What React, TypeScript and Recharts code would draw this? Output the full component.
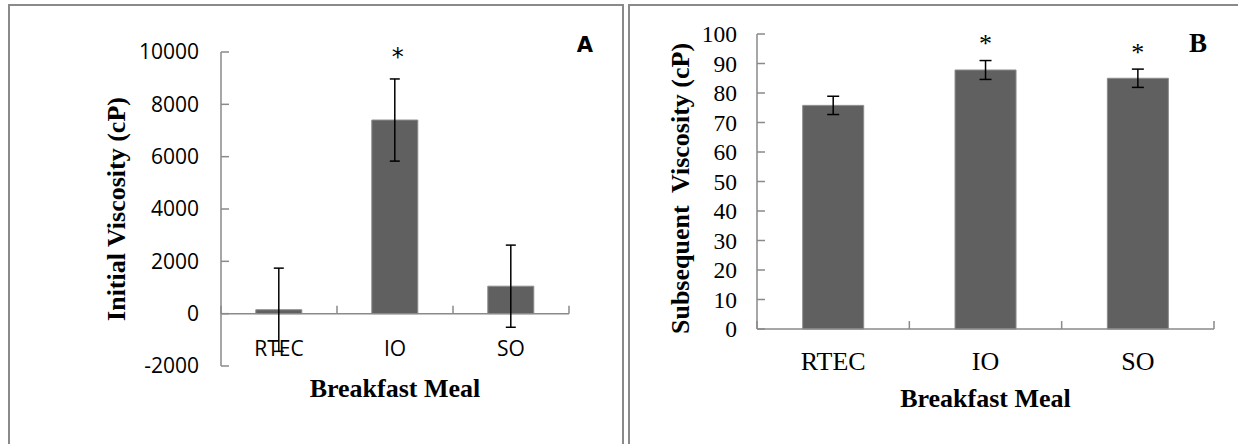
import React from "react";
import {
  BarChart,
  Bar,
  XAxis,
  YAxis,
  ErrorBar,
  LabelList,
  ReferenceLine,
} from "recharts";

const meals = ["RTEC", "IO", "SO"];

// panel A – initial viscosity
const initialViscosity = [150, 7400, 1050];
const initialError = [1590, 1570, 1570];
const initialSig = ["", "*", ""];
const initialTicks = [-2000, 0, 2000, 4000, 6000, 8000, 10000];

// panel B – subsequent viscosity
const subsequentViscosity = [75.8, 87.8, 85];
const subsequentError = [3.1, 3.2, 3.1];
const subsequentSig = ["", "*", "*"];
const subsequentTicks = [0, 10, 20, 30, 40, 50, 60, 70, 80, 90, 100];

const dataA = meals.map((meal, i) => ({
  meal,
  value: initialViscosity[i],
  err: initialError[i],
  sig: initialSig[i],
}));

const dataB = meals.map((meal, i) => ({
  meal,
  value: subsequentViscosity[i],
  err: subsequentError[i],
  sig: subsequentSig[i],
}));

const AXIS = "#8a8a8a";
const BAR = "#606060";
const SANS = "Open Sans";
const SERIF = "Liberation Serif";

const catTick = (dy: number, family: string, size: number) => (props: any) => (
  <text
    x={props.x}
    y={props.y + dy}
    textAnchor="middle"
    fontFamily={family}
    fontSize={size}
    fill="#000"
  >
    {props.payload.value}
  </text>
);

const star = (lift: number, family: string, size: number, shift = 0) => (props: any) => {
  const { x, y, width, value } = props;
  if (!value) return null;
  return (
    <text
      x={x + width / 2 + shift}
      y={y - lift}
      textAnchor="middle"
      fontFamily={family}
      fontSize={size}
      fill="#000"
    >
      {value}
    </text>
  );
};

const yTitle = (text: string, dx: number, dy: number) => (props: any) => {
  const vb = props.viewBox;
  const cx = vb.x + dx;
  const cy = vb.y + vb.height / 2 + dy;
  return (
    <text
      transform={`translate(${cx},${cy}) rotate(-90)`}
      textAnchor="middle"
      dominantBaseline="central"
      fontFamily={SERIF}
      fontWeight="bold"
      fontSize={26}
      fill="#000"
    >
      {text}
    </text>
  );
};

const xTitle = (dy: number) => (props: any) => {
  const vb = props.viewBox;
  return (
    <text
      x={vb.x + vb.width / 2}
      y={vb.y + dy}
      textAnchor="middle"
      fontFamily={SERIF}
      fontWeight="bold"
      fontSize={26}
      fill="#000"
    >
      Breakfast Meal
    </text>
  );
};

function separators(tickLen: number) {
  const lines = meals.map((m) => (
    <ReferenceLine
      key={m}
      segment={[
        { x: m, y: 0 },
        { x: m, y: tickLen },
      ]}
      position="start"
      stroke={AXIS}
      strokeWidth={1.5}
      ifOverflow="visible"
    />
  ));
  const last = meals[meals.length - 1];
  lines.push(
    <ReferenceLine
      key="end"
      segment={[
        { x: last, y: 0 },
        { x: last, y: tickLen },
      ]}
      position="end"
      stroke={AXIS}
      strokeWidth={1.5}
      ifOverflow="visible"
    />
  );
  return lines;
}

export default function App() {
  return (
    <div
      style={{
        position: "absolute",
        left: 0,
        top: 0,
        width: 1238,
        height: 444,
        background: "#fff",
        overflow: "hidden",
      }}
    >
      <svg
        width={1238}
        height={444}
        style={{ position: "absolute", left: 0, top: 0 }}
      >
        <g stroke={AXIS} strokeWidth={2} fill="none">
          <polyline points="9,444 9,5 623,5 623,444" />
          <polyline points="629,444 629,5 1238,5" />
        </g>
        <text
          x={585}
          y={52}
          textAnchor="middle"
          fontFamily="DejaVu Sans"
          fontWeight="bold"
          fontSize={21}
          fill="#000"
        >
          A
        </text>
        <text
          x={1198}
          y={52}
          textAnchor="middle"
          fontFamily={SERIF}
          fontWeight="bold"
          fontSize={27}
          fill="#000"
        >
          B
        </text>
      </svg>

      <div style={{ position: "absolute", left: 0, top: 0 }}>
        <BarChart
          width={640}
          height={444}
          data={dataA}
          margin={{ top: 52, right: 71, bottom: 38, left: 101 }}
          barCategoryGap="30%"
        >
          <XAxis
            dataKey="meal"
            height={40}
            axisLine={false}
            tickLine={false}
            tickSize={0}
            tickMargin={0}
            tick={catTick(-10, SANS, 21)}
            label={{ content: xTitle(31) }}
          />
          <YAxis
            width={120}
            domain={[-2000, 10000]}
            ticks={initialTicks}
            interval={0}
            axisLine={{ stroke: AXIS, strokeWidth: 1.5 }}
            tickLine={{ stroke: AXIS, strokeWidth: 1.5 }}
            tickSize={-8}
            tickMargin={30}
            tick={{ fill: "#000", fontSize: 21, fontFamily: SANS }}
            label={{ content: yTitle("Initial Viscosity (cP)", 15.5, 0) }}
          />
          <ReferenceLine y={0} stroke={AXIS} strokeWidth={1.5} />
          {separators(300)}
          <Bar
            dataKey="value"
            fill={BAR}
            stroke="#8c8c8c"
            strokeWidth={1}
            isAnimationActive={false}
          >
            <ErrorBar
              dataKey="err"
              width={5}
              stroke="#000"
              strokeWidth={1.5}
              direction="y"
            />
            <LabelList dataKey="sig" content={star(55, "DejaVu Sans", 24, 3)} />
          </Bar>
        </BarChart>
      </div>

      <div style={{ position: "absolute", left: 640, top: 0 }}>
        <BarChart
          width={598}
          height={444}
          data={dataB}
          margin={{ top: 34, right: 24, bottom: 25, left: 17 }}
          barCategoryGap="30%"
        >
          <XAxis
            dataKey="meal"
            height={90}
            axisLine={{ stroke: AXIS, strokeWidth: 1.5 }}
            tickLine={false}
            tickSize={0}
            tickMargin={0}
            tick={catTick(41, SERIF, 26)}
            label={{ content: xTitle(78) }}
          />
          <YAxis
            width={100}
            domain={[0, 100]}
            ticks={subsequentTicks}
            interval={0}
            axisLine={{ stroke: AXIS, strokeWidth: 1.5 }}
            tickLine={{ stroke: AXIS, strokeWidth: 1.5 }}
            tickSize={-8}
            tickMargin={28}
            tick={{ fill: "#000", fontSize: 23.5, fontFamily: SERIF }}
            label={{
              content: yTitle("Subsequent\u00a0 Viscosity (cP)", 23, 7),
            }}
          />
          {separators(2.7)}
          <Bar
            dataKey="value"
            fill={BAR}
            stroke="#8c8c8c"
            strokeWidth={1}
            isAnimationActive={false}
          >
            <ErrorBar
              dataKey="err"
              width={6}
              stroke="#000"
              strokeWidth={1.5}
              direction="y"
            />
            <LabelList dataKey="sig" content={star(17.5, SERIF, 26)} />
          </Bar>
        </BarChart>
      </div>
    </div>
  );
}
